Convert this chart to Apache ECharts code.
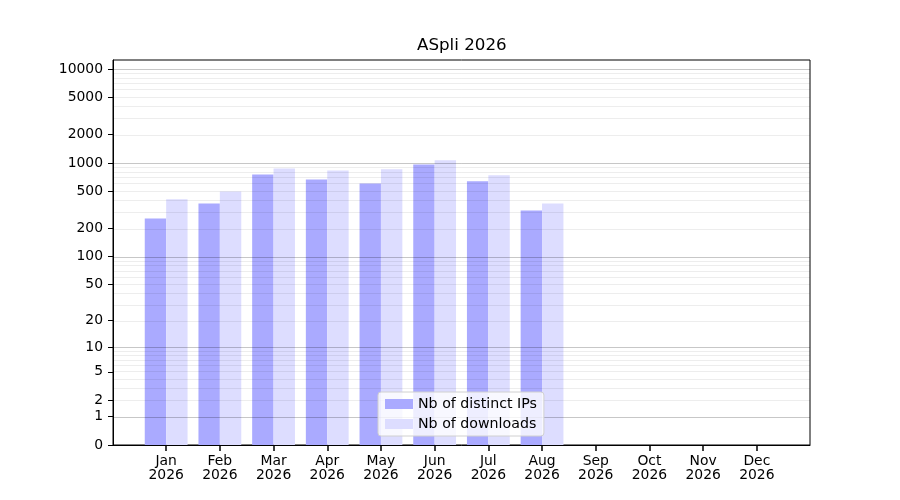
<!DOCTYPE html>
<html style="height: 100%">
<head>
    <meta charset="utf-8">
</head>
<body style="height: 100%; margin: 0">
<div id="container" style="width: 900px; height: 500px"></div>
<script type="text/javascript" src="https://cdn.jsdelivr.net/npm/echarts@6/dist/echarts.min.js"></script>
<script type="text/javascript">
var months = ['Jan', 'Feb', 'Mar', 'Apr', 'May', 'Jun', 'Jul', 'Aug', 'Sep', 'Oct', 'Nov', 'Dec'];
var year = '2026';
var distinctIPs = [256, 371, 756, 668, 606, 966, 637, 312];
var downloads = [410, 498, 876, 834, 855, 1066, 738, 370];
var yTicks = [0, 1, 2, 5, 10, 20, 50, 100, 200, 500, 1000, 2000, 5000, 10000];
var majorGrid = [1, 10, 100, 1000, 10000];

// minor grid at 2..9 x each decade
var minorGrid = [];
for (var k = 0; k < 4; k++) {
    for (var m = 2; m <= 9; m++) minorGrid.push(m * Math.pow(10, k));
}

// y axis is log10(v + 1)
function tf(v) { return Math.log10(v + 1); }

var font = 'DejaVu Sans';
var monthIdx = months.map(function (m, i) { return i; });

var gridLines = [];
minorGrid.forEach(function (v) {
    gridLines.push({ yAxis: tf(v), lineStyle: { color: 'rgba(0,0,0,0.07)', width: 1, type: 'solid' } });
});
majorGrid.forEach(function (v) {
    gridLines.push({ yAxis: tf(v), lineStyle: { color: 'rgba(0,0,0,0.22)', width: 1, type: 'solid' } });
});

var myChart = echarts.init(document.getElementById('container'));
var option = {
    animation: false,
    title: {
        text: 'ASpli ' + year,
        left: 417,
        top: 37,
        padding: 0,
        textStyle: { fontFamily: font, fontSize: 16.7, fontWeight: 'normal', color: '#000' }
    },
    legend: {
        orient: 'vertical',
        left: 378,
        top: 392,
        z: 10,
        icon: 'rect',
        itemWidth: 28,
        itemHeight: 10,
        itemGap: 6,
        padding: [5, 7, 5, 7],
        backgroundColor: 'rgba(255,255,255,0.8)',
        borderColor: '#d0d0d0',
        borderWidth: 1,
        borderRadius: 3,
        textStyle: { fontFamily: font, fontSize: 14.2, color: '#000' },
        data: ['Nb of distinct IPs', 'Nb of downloads']
    },
    grid: {
        left: 113,
        right: 90,
        top: 60,
        bottom: 55,
        show: true,
        borderColor: '#000',
        borderWidth: 1
    },
    xAxis: {
        type: 'value',
        min: -0.99,
        max: 11.99,
        splitLine: { show: false },
        axisLine: { show: true, onZero: false, lineStyle: { color: '#000' } },
        axisTick: { show: true, customValues: monthIdx, length: 6, lineStyle: { color: '#000', width: 1.5 } },
        axisLabel: {
            customValues: monthIdx,
            margin: 9,
            fontFamily: font,
            fontSize: 13.9,
            color: '#000',
            formatter: function (v) { return months[Math.round(v)] + '\n' + year; }
        }
    },
    yAxis: {
        type: 'value',
        min: 0,
        max: 4.096,
        splitLine: { show: false },
        axisLine: { show: true, onZero: false, lineStyle: { color: '#000' } },
        axisTick: { show: true, customValues: yTicks.map(tf), length: 5, lineStyle: { color: '#000' } },
        axisLabel: {
            customValues: yTicks.map(tf),
            margin: 10,
            fontFamily: font,
            fontSize: 13.9,
            color: '#000',
            formatter: function (v) { return String(Math.round(Math.pow(10, v) - 1)); }
        }
    },
    series: [
        {
            name: 'Nb of distinct IPs',
            type: 'bar',
            barWidth: 21.4,
            barGap: '0%',
            itemStyle: { color: '#aaaaff' },
            data: distinctIPs.map(function (v, i) { return [i, tf(v)]; })
        },
        {
            name: 'Nb of downloads',
            type: 'bar',
            barWidth: 21.4,
            barGap: '0%',
            itemStyle: { color: '#ddddff' },
            data: downloads.map(function (v, i) { return [i, tf(v)]; }),
            markLine: {
                silent: true,
                z: 5,
                symbol: ['none', 'none'],
                label: { show: false },
                data: gridLines
            }
        }
    ]
};
myChart.setOption(option, true);
</script>
</body>
</html>
